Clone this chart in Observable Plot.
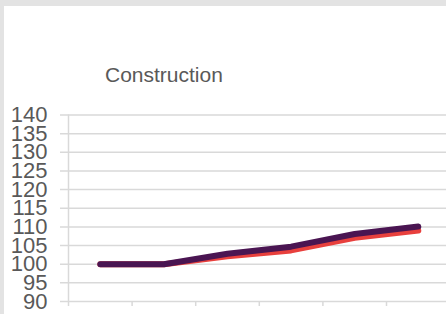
<!DOCTYPE html>
<html><head><meta charset="utf-8">
<script src="https://cdn.jsdelivr.net/npm/d3@7"></script>
<script src="https://cdn.jsdelivr.net/npm/@observablehq/plot@0.6"></script>
<style>
html,body{margin:0;padding:0;background:#e3e3e3;width:446px;height:314px;overflow:hidden;font-family:"Liberation Sans",Arial,sans-serif;}
#panel{position:absolute;left:4px;top:6px;width:442px;height:308px;background:#fff;overflow:hidden;}
#title{position:absolute;left:101px;top:58px;font-size:21px;line-height:1;color:#595959;white-space:nowrap;}
#chart{position:absolute;left:0;top:0;}
</style></head>
<body>
<div id="panel"><div id="chart"></div><div id="title">Construction</div></div>
<script>
const periods = [1, 2, 3, 4, 5, 6];
const seriesA = [100, 100, 102.1, 103.7, 107.1, 109.0]; // red
const seriesB = [100, 100, 102.8, 104.7, 108.1, 110.1]; // purple
const yTicks = [90, 95, 100, 105, 110, 115, 120, 125, 130, 135, 140];

const rowsA = periods.map((p, i) => ({x: p - 0.5, y: seriesA[i]}));
const rowsB = periods.map((p, i) => ({x: p - 0.5, y: seriesB[i]}));

const plot = Plot.plot({
  width: 442,
  height: 308,
  marginLeft: 56,
  marginRight: 0,
  marginTop: 108.5,
  marginBottom: 13,
  style: {background: "#fff", color: "#595959", fontFamily: "'Liberation Sans', Arial, sans-serif"},
  x: {domain: [0, 6], range: [64, 445.6], label: null},
  y: {domain: [90, 140], label: null},
  marks: [
    Plot.gridY(yTicks, {stroke: "#d9d9d9", strokeOpacity: 1, strokeWidth: 1.5}),
    Plot.ruleX([0], {stroke: "#d9d9d9", strokeWidth: 1.5}),
    Plot.axisY(yTicks, {tickSize: 0, tickPadding: 13, fontSize: 22, fill: "#595959", label: null, tickFormat: d => String(d)}),
    Plot.axisX([0, 1, 2, 3, 4, 5, 6], {tickSize: 5, stroke: "#d9d9d9", strokeWidth: 1.5, label: null, tickFormat: () => ""}),
    Plot.line(rowsA, {x: "x", y: "y", stroke: "#e8403d", strokeWidth: 6, strokeLinecap: "round", strokeLinejoin: "round"}),
    Plot.line(rowsB, {x: "x", y: "y", stroke: "#4a1552", strokeWidth: 6, strokeLinecap: "round", strokeLinejoin: "round"})
  ]
});
document.getElementById("chart").appendChild(plot);
</script>
</body></html>
